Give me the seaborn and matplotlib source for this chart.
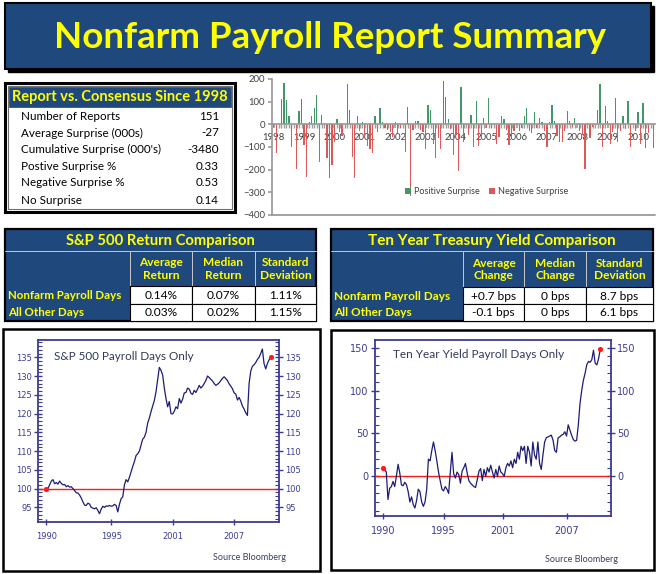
import numpy as np
import pandas as pd
import matplotlib
matplotlib.use("Agg")
import matplotlib.pyplot as plt
import seaborn as sns
from matplotlib.patches import Rectangle
from matplotlib.ticker import MultipleLocator

# ---------------- data ----------------
title_text = "Nonfarm Payroll Report Summary"

report_title = "Report vs. Consensus Since 1998"
report_labels = ["Number of Reports", "Average Surprise (000s)", "Cumulative Surprise (000's)",
                 "Postive Surprise %", "Negative Surprise %", "No Surprise"]
report_values = ["151", "-27", "-3480", "0.33", "0.53", "0.14"]

# monthly payroll surprise (000s), Jan 1998 .. Jul 2010
surprise = [
    -10, -128, 0, 110, 182, 108, 35, -100, 0, -195,
    57, 113, -90, -232, 10, 38, 73, 130, -168, 40,
    0, -148, -238, -178, -80, 25, -35, -50, 0, 180,
    63, -145, -235, 35, -30, 12, -60, -95, -110, -125,
    35, -35, 70, 10, -15, -25, -35, -55, 12, -40,
    -15, 0, -120, 78, -315, -25, 15, 15, -25, -35,
    -110, 85, 65, -85, -148, -60, -108, 192, 122, 25,
    -20, -135, -45, -205, 165, -80, 0, -45, 40, -100,
    103, -95, -50, 30, -15, 118, -15, 0, -85, -55,
    35, 25, -25, -90, -45, -30, 0, -30, -15, 35,
    70, -30, -40, 53, -15, 28, 10, -30, -100, 10,
    85, 15, -50, -80, -80, -30, 58, 15, -10, 28,
    0, -30, -45, -195, 0, -60, -10, 0, 65, 178,
    -98, 82, 15, -85, -35, 115, -80, -30, 35, -20,
    103, -100, 0, -30, 55, -85, 95, -105, -40, 0,
    -105,
]
bar_years = [str(y) for y in range(1998, 2011)]
legend_names = ["Positive Surprise", "Negative Surprise"]

sp_title = "S&P 500 Return Comparison"
ty_title = "Ten Year Treasury Yield Comparison"
row_names = ["Nonfarm Payroll Days", "All Other Days"]
sp_cols = ["Average\nReturn", "Median\nReturn", "Standard\nDeviation"]
sp_vals = [["0.14%", "0.07%", "1.11%"], ["0.03%", "0.02%", "1.15%"]]
ty_cols = ["Average\nChange", "Median\nChange", "Standard\nDeviation"]
ty_vals = [["+0.7 bps", "0 bps", "8.7 bps"], ["-0.1 bps", "0 bps", "6.1 bps"]]

# S&P 500 indexed level, payroll days only (1990 = 100)
sp_level = [
    99.8, 100.0, 101.0, 102.0, 102.4, 101.3, 101.6, 101.2, 102.0, 101.4,
    101.0, 101.1, 100.5, 100.8, 100.4, 100.5, 100.0, 99.5, 98.9, 98.8,
    98.3, 97.5, 96.5, 95.6, 95.5, 96.1, 95.9, 95.0, 94.8, 94.6,
    94.9, 94.2, 93.3, 94.5, 95.3, 95.0, 95.4, 95.3, 95.5, 95.3,
    95.4, 95.8, 95.5, 93.8, 95.8, 97.3, 97.8, 101.0, 102.4, 101.8,
    103.0, 104.5, 105.9, 107.2, 108.8, 109.3, 110.0, 111.6, 113.2, 113.7,
    115.0, 117.5, 118.8, 120.5, 122.0, 123.5, 125.8, 129.0, 132.3, 131.5,
    130.3, 126.8, 124.0, 121.8, 123.2, 120.0, 119.9, 120.6, 121.8, 121.3,
    124.0, 122.8, 123.8, 125.5, 125.6, 126.8, 126.5, 125.4, 125.1, 126.2,
    125.6, 126.5, 127.5, 126.8, 127.3, 128.0, 128.8, 130.0, 129.6, 129.1,
    128.7, 128.0, 127.5, 127.8, 128.2, 128.8, 129.4, 129.8, 129.3, 128.8,
    127.9, 127.3, 126.6, 125.5, 125.2, 123.6, 124.3, 123.3, 122.0, 121.2,
    120.2, 119.5, 128.0, 131.3, 132.6, 133.0, 133.6, 134.4, 135.0, 136.0,
    137.2, 133.3, 131.9, 133.3, 134.3, 135.2,
]
sp_tick_pos = [0, 39, 76, 113]
sp_tick_lab = ["1990", "1995", "2001", "2007"]

# cumulative ten-year yield change (bps), payroll days only
ty_level = [
    10, 8, 5, -27, -14, -12, -6, -12, 0, 14,
    4, -10, -11, -7, -10, -18, -30, -24, -33, -37,
    -28, -15, -18, -30, -35, -30, -15, 20, 18, 30,
    40, 30, 18, 5, -5, -15, -17, -12, -15, -20,
    5, 28, 3, -2, 5, 2, -8, 6, 10, 15,
    4, -5, -8, -10, -12, -13, -4, 6, 9, -5,
    8, 0, 10, 5, 13, 5, -2, 8, 0, 12,
    5, 3, 0, 10, 15, 12, 18, 10, 20, 15,
    28, 20, 35, 30, 35, 15, 35, 28, 12, 40,
    25, 20, 40, 15, 8, 25, 40, 45, 46, 47,
    48, 42, 30, 28, 45, 46, 48, 49, 52, 47,
    60, 54, 48, 43, 41, 42, 60, 85, 100, 112,
    120, 130, 134, 133, 136, 147, 132, 130, 137, 148,
]
ty_tick_pos = [0, 36, 71, 109]
ty_tick_lab = ["1990", "1995", "2001", "2007"]

# ---------------- style ----------------
sns.set_theme(style="white")
plt.rcParams["font.family"] = ["Lato", "DejaVu Sans"]

NAVY = "#1F497D"
YEL = "#FFFF00"
LINE = "#1C1C78"
AXC = "#3B3B92"
RED = "#FF1A1A"
W, H = 660, 574

fig = plt.figure(figsize=(6.6, 5.74), dpi=100)
fig.patch.set_facecolor("white")
renderer = fig.canvas.get_renderer()


def rect(x0, y0, x1, y1):
    return [x0 / W, 1 - y1 / H, (x1 - x0) / W, (y1 - y0) / H]


def fit(t, target):
    w = t.get_window_extent(renderer).width
    t.set_fontsize(t.get_fontsize() * target / w)
    return t.get_fontsize()


bg = fig.add_axes([0, 0, 1, 1])
bg.set_xlim(0, W)
bg.set_ylim(H, 0)
bg.axis("off")


def box(x0, y0, x1, y1, fc="none", ec="black", lw=1.0, z=1):
    bg.add_patch(Rectangle((x0, y0), x1 - x0, y1 - y0, facecolor=fc,
                           edgecolor=ec, linewidth=lw, zorder=z))


# ---------------- banner ----------------
box(8, 6, 654, 72, fc="black", ec="black", lw=1, z=1)
box(5, 3, 651, 69, fc=NAVY, ec="black", lw=1.5, z=2)
t = bg.text(330, 38, title_text, color=YEL, fontweight="bold", fontsize=26,
            ha="center", va="center", zorder=3)
fit(t, 552)

# ---------------- report box ----------------
box(5, 83, 235, 212, fc="white", ec="black", lw=2.2)
box(8, 86, 232, 209, ec="#707070", lw=0.8)
box(9, 87, 231, 107, fc=NAVY, ec=NAVY, lw=0.5, z=2)
t = bg.text(120, 97.5, report_title, color=YEL, fontweight="bold", fontsize=11,
            ha="center", va="center", zorder=3)
fit(t, 214)
row_y = [116.5, 133, 149.5, 166, 183, 200]
t0 = bg.text(21, row_y[0], report_labels[0], fontsize=9, ha="left", va="center", color="black")
fs = fit(t0, 98)
for i, (lab, val) in enumerate(zip(report_labels, report_values)):
    if i > 0:
        bg.text(21, row_y[i], lab, fontsize=fs, ha="left", va="center", color="black")
    bg.text(219, row_y[i], val, fontsize=fs, ha="right", va="center", color="black")

# common font size for table values
probe = bg.text(0, 0, "+0.7 bps", fontsize=9)
VAL_FS = fit(probe, 45)
probe.remove()


# ---------------- comparison tables ----------------
def table(xs, ys, title, title_w, cols, vals, lab_w):
    x0, x3 = xs[0], xs[-1]
    box(x0, ys[0], x3, ys[-1], fc=NAVY, ec="black", lw=1.6, z=1)
    bg.plot([x0, x3], [ys[1], ys[1]], color="#C8C8C8", lw=0.7, zorder=2)
    for xc in xs[1:-1]:
        bg.plot([xc, xc], [ys[1], ys[2]], color="#C8C8C8", lw=0.7, zorder=2)
    tt = bg.text((x0 + x3) / 2, (ys[0] + ys[1]) / 2 + 0.5, title, color=YEL,
                 fontweight="bold", fontsize=11, ha="center", va="center", zorder=3)
    fit(tt, title_w)
    hfs = None
    for j, c in enumerate(cols):
        ht = bg.text((xs[j + 1] + xs[j + 2]) / 2, (ys[1] + ys[2]) / 2 + 0.5, c, color=YEL,
                     fontweight="bold", fontsize=9, ha="center", va="center",
                     linespacing=1.15, zorder=3)
        if hfs is None:
            hfs = fit(ht, 44)
        else:
            ht.set_fontsize(hfs)
    lfs = None
    for r in range(2):
        yc = (ys[2 + r] + ys[3 + r]) / 2 + 0.5
        lt = bg.text(x0 + 3, yc, row_names[r], color=YEL, fontweight="bold",
                     fontsize=9, ha="left", va="center", zorder=3)
        if lfs is None:
            lfs = fit(lt, lab_w)
        else:
            lt.set_fontsize(lfs)
        for j in range(3):
            box(xs[j + 1], ys[2 + r], xs[j + 2], ys[3 + r], fc="white", ec="black", lw=0.8, z=2)
            bg.text((xs[j + 1] + xs[j + 2]) / 2, yc, vals[r][j], color="black",
                    fontsize=VAL_FS, ha="center", va="center", zorder=3)


table([5, 130, 192, 255, 316], [229, 251, 286, 304, 321], sp_title, 188,
      sp_cols, sp_vals, 113)
table([331, 463, 524, 586, 653], [229, 251, 287, 304, 321], ty_title, 248,
      ty_cols, ty_vals, 115)

# ---------------- surprise bar chart ----------------
df = pd.DataFrame({"month": np.arange(len(surprise)), "surprise": surprise})
df["kind"] = np.where(df["surprise"] > 0, legend_names[0], legend_names[1])
axb = fig.add_axes(rect(272, 79, 655, 215))
sns.barplot(data=df, x="month", y="surprise", hue="kind", hue_order=legend_names,
            palette={legend_names[0]: "#34A466", legend_names[1]: "#F04444"},
            dodge=False, width=0.5, linewidth=0, errorbar=None, ax=axb)
axb.set_xlim(-0.7, len(surprise) - 0.3)
axb.set_ylim(-400, 200)
axb.set_yticks(range(-400, 201, 100))
axb.set_xticks(range(0, len(surprise), 12))
axb.set_xticklabels(bar_years)
axb.xaxis.set_minor_locator(MultipleLocator(1))
axb.spines["bottom"].set_position(("data", 0))
axb.spines["bottom"].set_color("#9A9A9A")
axb.spines["left"].set_color("#9A9A9A")
axb.spines["top"].set_visible(False)
axb.spines["right"].set_visible(False)
axb.axhline(-400, color="#9A9A9A", lw=1.3, clip_on=False)
axb.tick_params(axis="x", which="both", direction="out", length=3, color="#A0A0A0",
                bottom=True, labelsize=6.8, labelcolor="#404040", pad=3)
axb.tick_params(axis="y", direction="out", length=3, color="#A0A0A0", left=True,
                labelsize=6.8, labelcolor="#404040", pad=2)
axb.set_xlabel("")
axb.set_ylabel("")
axb.set_facecolor("none")
h, l = axb.get_legend_handles_labels()
axb.legend(h, l, loc="center", bbox_to_anchor=(0.56, 0.17), ncol=2, frameon=False,
           fontsize=6.5, handlelength=0.7, handleheight=0.7, handletextpad=0.3,
           columnspacing=1.0, labelcolor="#404040")


# ---------------- line panels ----------------
def line_panel(panel, axr, vals, base, ylim, xlim, major, minor, tpos, tlab,
               title, title_xy, title_w, src_xy, lab_size):
    box(*panel, ec="black", lw=1.8)
    ax = fig.add_axes(rect(*axr))
    x = np.arange(len(vals))
    ax.axhline(base, color=RED, lw=1.0, zorder=1)
    sns.lineplot(x=x, y=vals, ax=ax, color=LINE, linewidth=0.9, zorder=2)
    ax.scatter([x[0], x[-1]], [vals[0], vals[-1]], color=RED, s=14, zorder=5, linewidths=0)
    ax.set_xlim(*xlim)
    ax.set_ylim(*ylim)
    ax.yaxis.set_major_locator(MultipleLocator(major))
    ax.yaxis.set_minor_locator(MultipleLocator(minor))
    ax.set_xticks(tpos)
    ax.set_xticklabels(tlab)
    for s in ax.spines.values():
        s.set_color(AXC)
        s.set_linewidth(1.3)
    ax.tick_params(axis="y", which="major", direction="inout", length=6, width=1,
                   left=True, right=True, labelleft=True, labelright=True,
                   colors=AXC, labelsize=lab_size, pad=1.5)
    ax.tick_params(axis="y", which="minor", direction="in", length=3, width=0.8,
                   left=True, right=True, colors=AXC)
    ax.tick_params(axis="x", which="major", direction="inout", length=5, width=1,
                   bottom=True, colors=AXC, labelsize=lab_size, pad=5)
    for lab in ax.get_xticklabels() + ax.get_yticklabels():
        lab.set_family(["Liberation Sans Narrow", "DejaVu Sans"])
    ax.set_xlabel("")
    ax.set_ylabel("")
    ax.set_facecolor("white")
    tt = ax.text(title_xy[0], title_xy[1], title, transform=ax.transAxes, color="#2E3A5C",
                 fontsize=10, ha="left", va="center")
    fit(tt, title_w)
    st = bg.text(src_xy[0], src_xy[1], "Source Bloomberg", color="#3C4060",
                 fontsize=7, ha="left", va="center")
    fit(st, 73)
    return ax


line_panel((3, 329, 320, 571), (38, 340, 279, 522), sp_level, 100, (91.1, 139.6), (-5, 140),
           5, 1, sp_tick_pos, sp_tick_lab, "S&P 500 Payroll Days Only", (0.066, 0.912), 139,
           (213, 558), 6)
line_panel((331, 330, 654, 570), (374.5, 340, 611, 516), ty_level, 0, (-46.3, 159), (-5, 135.4),
           50, 10, ty_tick_pos, ty_tick_lab, "Ten Year Yield Payroll Days Only", (0.078, 0.915), 170,
           (545, 560), 7)

fig.savefig("out.png", dpi=100, facecolor="white")
